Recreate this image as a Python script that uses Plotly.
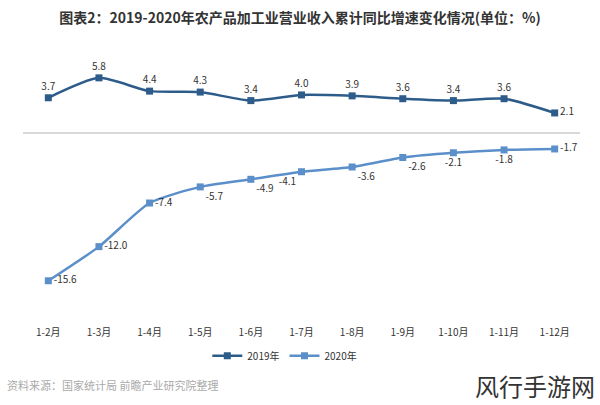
import plotly.graph_objects as go

categories = ["1-2月", "1-3月", "1-4月", "1-5月", "1-6月", "1-7月", "1-8月", "1-9月", "1-10月", "1-11月", "1-12月"]
values_2019 = [3.7, 5.8, 4.4, 4.3, 3.4, 4.0, 3.9, 3.6, 3.4, 3.6, 2.1]
values_2020 = [-15.6, -12.0, -7.4, -5.7, -4.9, -4.1, -3.6, -2.6, -2.1, -1.8, -1.7]
pos_2019 = ["top center"] * 10 + ["middle right"]
pos_2020 = ["middle right", "middle right", "middle right", "bottom right", "bottom right",
            "bottom left", "bottom right", "bottom right", "bottom center", "bottom center", "middle right"]

c2019 = "#2e5c8a"
c2020 = "#5b8fc9"
font = "Noto Sans CJK SC"

fig = go.Figure()
fig.add_trace(go.Scatter(
    x=categories, y=values_2019, name="2019年", mode="lines+markers+text",
    line=dict(color=c2019, width=2.5, shape="spline", smoothing=0.6),
    marker=dict(symbol="square", size=7, color=c2019),
    text=[f"{v:.1f}" for v in values_2019], textposition=pos_2019,
    textfont=dict(size=10, color="#333333", family=font),
    cliponaxis=False,
))
fig.add_trace(go.Scatter(
    x=categories, y=values_2020, name="2020年", mode="lines+markers+text",
    line=dict(color=c2020, width=2.5, shape="spline", smoothing=0.6),
    marker=dict(symbol="square", size=7, color=c2020),
    text=[f"{v:.1f}" for v in values_2020], textposition=pos_2020,
    textfont=dict(size=10, color="#333333", family=font),
    cliponaxis=False,
))

fig.update_layout(
    width=600, height=405,
    margin=dict(l=23, r=20, t=57, b=92, autoexpand=False),
    paper_bgcolor="white", plot_bgcolor="white",
    title=dict(text="<b>图表2：2019-2020年农产品加工业营业收入累计同比增速变化情况(单位：%)</b>",
               x=0.5, xanchor="center", y=0.967, yanchor="top",
               font=dict(size=14, color="#333333", family=font)),
    xaxis=dict(type="category", range=[-0.5, 10.5], showgrid=False, showline=False,
               ticks="outside", ticklen=10, tickcolor="rgba(0,0,0,0)",
               tickfont=dict(size=10, color="#333333", family=font)),
    yaxis=dict(range=[-19, 8], showgrid=False, showticklabels=False, zeroline=True,
               zerolinecolor="#d9d9d9", zerolinewidth=1.5),
    showlegend=True,
    legend=dict(orientation="h", x=0.47, xanchor="center", y=-0.11, yanchor="top",
                font=dict(size=10, color="#333333", family=font), itemwidth=30),
    annotations=[
        dict(text="资料来源：国家统计局 前瞻产业研究院整理", xref="paper", yref="paper",
             x=-0.033, y=-0.28, xanchor="left", yanchor="middle", showarrow=False,
             font=dict(size=11, color="#aaaaaa", family=font)),
        dict(text="风行手游网", xref="paper", yref="paper",
             x=1.03, y=-0.285, xanchor="right", yanchor="middle", showarrow=False,
             font=dict(size=24, color="#333333", family=font)),
    ],
)

fig.write_html("out.html", config={"displayModeBar": False},
               post_script="document.body.style.margin='0';")
